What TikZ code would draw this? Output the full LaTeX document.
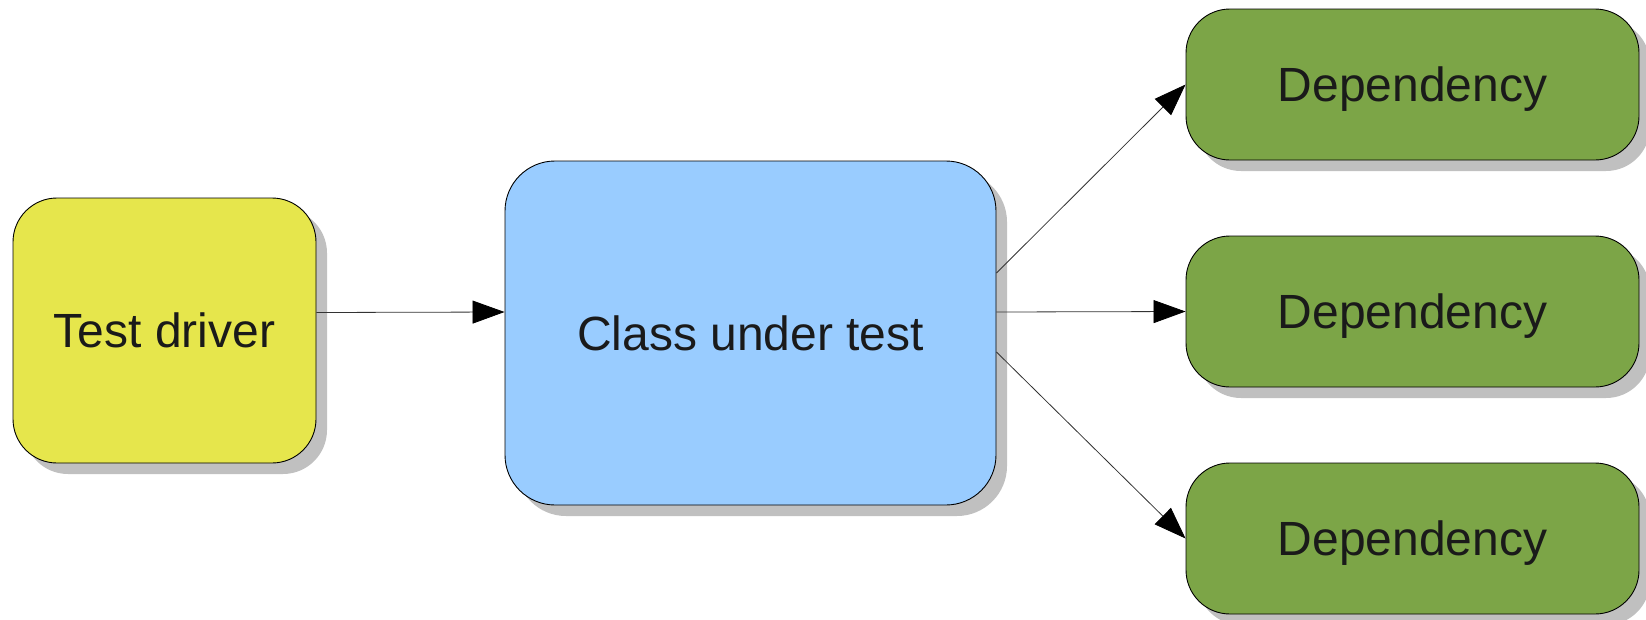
\documentclass[tikz,border=0pt]{standalone}
\usepackage{fontspec}
\setmainfont{Liberation Sans}
\usetikzlibrary{arrows.meta,shadows}

\definecolor{tdyellow}{HTML}{E6E64C}
\definecolor{cutblue}{HTML}{99CCFF}
\definecolor{depgreen}{HTML}{7CA547}
\definecolor{shadowgray}{HTML}{C0C0C0}
\definecolor{textblack}{HTML}{1A1A1A}

\begin{document}
\begin{tikzpicture}[x=1pt,y=1pt,
    box/.style={draw=black, line width=0.9pt, rounded corners=44pt,
        text=textblack, text depth=0pt, font=\fontsize{48}{58}\selectfont,
        drop shadow={shadow xshift=11pt, shadow yshift=-11pt, fill=shadowgray, opacity=1}},
    link/.style={draw=black!80, line width=0.8pt, -{Triangle[length=32pt,width=23pt,color=black]}}]
    \useasboundingbox (0,0) rectangle (1646,-619);
    \node[box, fill=tdyellow, minimum width=303pt, minimum height=265pt] (td) at (164.5,-330.5) {Test driver};
    \node[box, fill=cutblue, minimum width=491pt, minimum height=344pt, rounded corners=50pt] (cut) at (750.5,-333) {Class under test};
    \node[box, fill=depgreen, minimum width=453pt, minimum height=151pt] (dep1) at (1412.5,-84.5) {Dependency};
    \node[box, fill=depgreen, minimum width=453pt, minimum height=151pt] (dep2) at (1412.5,-311.5) {Dependency};
    \node[box, fill=depgreen, minimum width=453pt, minimum height=151pt] (dep3) at (1412.5,-538.5) {Dependency};
    \draw[link] ([yshift=18pt]td.east) -- ([yshift=21pt]cut.west);
    \draw[link] ([yshift=60pt]cut.east) -- (dep1.west);
    \draw[link] ([yshift=21pt]cut.east) -- (dep2.west);
    \draw[link] ([yshift=-19pt]cut.east) -- (dep3.west);
\end{tikzpicture}
\end{document}
